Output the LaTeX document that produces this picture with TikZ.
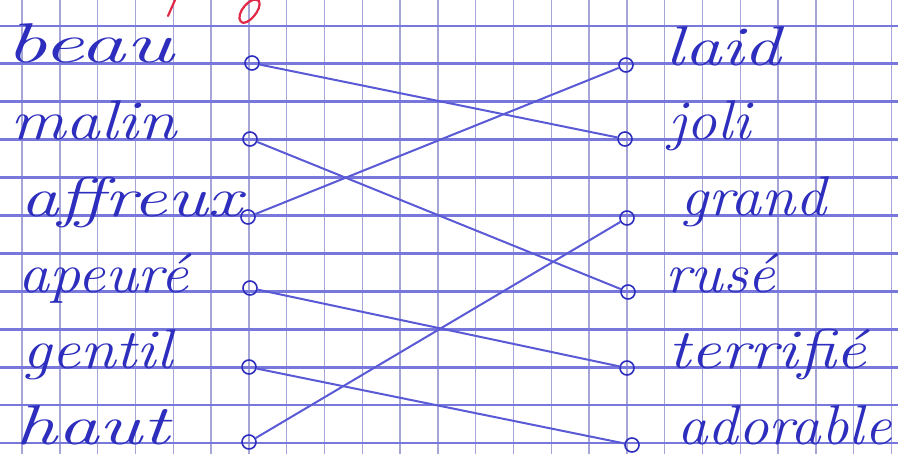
\documentclass[tikz,border=0pt]{standalone}
\usepackage{graphicx}
\definecolor{hline}{RGB}{120,120,220}
\definecolor{vline}{RGB}{165,165,215}
\definecolor{encre}{RGB}{45,45,190}
\definecolor{fil}{RGB}{90,90,215}
\definecolor{rouge}{RGB}{225,40,70}
% mot ecrit a la main : largeur imposee, hauteur conservee
\newcommand{\hw}[2]{\resizebox{#1}{\height}{#2}}

\begin{document}
\begin{tikzpicture}[x=0.5pt, y=-0.5pt,
  ligne/.style={draw=hline, line width=1.4pt},
  col/.style={draw=vline, line width=0.7pt},
  mot/.style={inner sep=0pt, anchor=base west, text=encre,
    font=\fontsize{28}{32}\selectfont\itshape},
  rond/.style={circle, draw=encre, line width=0.8pt, inner sep=0pt,
    minimum size=7pt},
  relie/.style={draw=fil, line width=1pt}]
  \useasboundingbox[fill=white] (0,0) rectangle (898,454);

  % quadrillage du cahier
  \foreach \i in {0,...,23}
    \draw[col] ({22+37.8*\i},0) -- ({22+37.8*\i},454);
  \foreach \j in {0,...,11}
    \draw[ligne] (0,{26+37.9*\j}) -- (898,{26+37.9*\j});

  % bout de consigne en rouge (coupe en haut)
  \draw[rouge, line width=1.1pt, line cap=round] (168,16) -- (175,0);
  \draw[rouge, line width=1.1pt] (241,22) .. controls (234,14) and (252,-6) .. (259,1)
    .. controls (263,9) and (247,27) .. (241,22);

  % colonne de gauche
  \node[mot] (beau)    at (5,63)   {\hw{84pt}{beau}};
  \node[mot] (malin)   at (10,140) {\hw{83pt}{malin}};
  \node[mot] (affreux) at (20,216) {\hw{111pt}{affreux}};
  \node[mot] (apeure)  at (18,292) {\hw{85pt}{apeuré}};
  \node[mot] (gentil)  at (22,368) {\hw{75pt}{gentil}};
  \node[mot] (haut)    at (15,444) {\hw{77pt}{haut}};

  \node[rond] (g1) at (252,63)  {};
  \node[rond] (g2) at (250,139) {};
  \node[rond] (g3) at (248,217) {};
  \node[rond] (g4) at (250,288) {};
  \node[rond] (g5) at (249,367) {};
  \node[rond] (g6) at (249,442) {};

  % colonne de droite
  \node[rond] (d1) at (626,65)  {};
  \node[rond] (d2) at (625,139) {};
  \node[rond] (d3) at (627,218) {};
  \node[rond] (d4) at (628,292) {};
  \node[rond] (d5) at (627,368) {};
  \node[rond] (d6) at (632,445) {};

  \node[mot] (laid)     at (665,66)  {\hw{58pt}{laid}};
  \node[mot] (joli)     at (668,140) {\hw{41pt}{joli}};
  \node[mot] (grand)    at (680,216) {\hw{73pt}{grand}};
  \node[mot] (ruse)     at (665,292) {\hw{55pt}{rusé}};
  \node[mot] (terrifie) at (668,368) {\hw{99pt}{terrifié}};
  \node[mot] (adorable) at (677,444) {\hw{107pt}{adorable}};

  % les liaisons
  \draw[relie] (g1) -- (d2);
  \draw[relie] (g2) -- (d4);
  \draw[relie] (g3) -- (d1);
  \draw[relie] (g4) -- (d5);
  \draw[relie] (g5) -- (d6);
  \draw[relie] (g6) -- (d3);
\end{tikzpicture}
\end{document}
